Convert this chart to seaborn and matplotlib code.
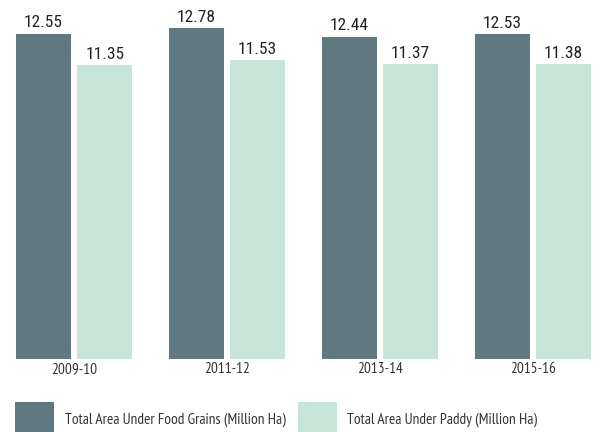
import pandas as pd
import numpy as np
import matplotlib
matplotlib.use('Agg')
import matplotlib.pyplot as plt
import seaborn as sns

years = ['2009-10', '2011-12', '2013-14', '2015-16']
food_grains = [12.55, 12.78, 12.44, 12.53]
paddy = [11.35, 11.53, 11.37, 11.38]
series_names = ['Total Area Under Food Grains (Million Ha)',
                'Total Area Under Paddy (Million Ha)']
colors = ['#607880', '#c6e5d8']

df = pd.DataFrame({
    'year': years * 2,
    'value': food_grains + paddy,
    'series': [series_names[0]] * 4 + [series_names[1]] * 4,
})

sns.set_style('white')
plt.rcParams['font.family'] = ['PT Sans Narrow', 'DejaVu Sans']

fig = plt.figure(figsize=(5.95, 4.32), dpi=100)
ax = fig.add_axes([16 / 595, 1 - 359 / 432, 575 / 595, 359 / 432])

sns.barplot(data=df, x='year', y='value', hue='series', palette=colors,
            width=0.8, gap=0.1, saturation=1, linewidth=0, ax=ax)

# value labels on top of the bars
for c in ax.containers:
    ax.bar_label(c, fmt='%.2f', padding=2.5, fontsize=12.5, color='#222222',
                 family=['Roboto Condensed', 'DejaVu Sans'])

ax.set_xlim(-0.38, 3.38)
ax.set_ylim(0, 13.86)
ax.set_yticks([])
ax.set_xlabel('')
ax.set_ylabel('')
ax.tick_params(axis='x', length=0, pad=2.5, labelsize=11, labelcolor='#333333')
sns.despine(ax=ax, left=True, bottom=True)

handles, labels = ax.get_legend_handles_labels()
ax.legend_.remove()
fig.legend(handles, labels, loc='upper left', bbox_to_anchor=(16 / 595 - 0.012, 1 - 396 / 432),
           ncol=2, frameon=False, fontsize=11, handlelength=2.55, handleheight=3.0,
           handletextpad=0.7, columnspacing=0.8, borderaxespad=0, labelcolor='#333333')

fig.savefig('out.png', dpi=100)
